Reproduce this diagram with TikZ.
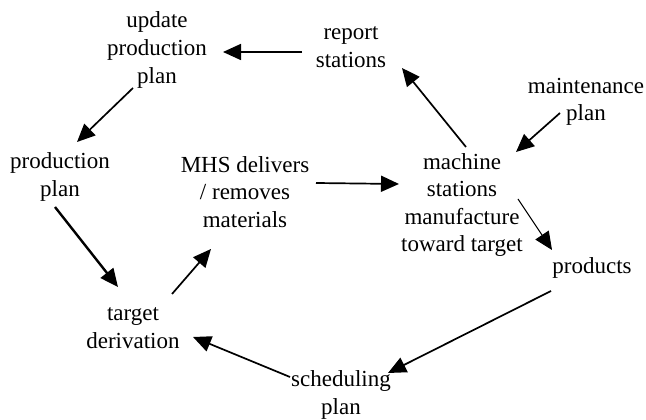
\documentclass[tikz,border=0pt]{standalone}
\usepackage{fontspec}
\setmainfont{Liberation Serif}
\usetikzlibrary{arrows.meta}
\begin{document}
\begin{tikzpicture}[x=1pt,y=1pt,
  lbl/.style={align=center,inner sep=0pt,font=\fontsize{23}{27.6}\selectfont},
  arr/.style={-{Triangle[length=18pt,width=16pt]},line width=1.7pt},
  thickarr/.style={arr,line width=2.4pt},
  thinarr/.style={arr,line width=1pt}]
\useasboundingbox (0,0) rectangle (646,420);
\node[lbl] (upd) at (157,370) {update\\production\\plan};
\node[lbl] (rep) at (351,373) {report\\stations};
\node[lbl] (maint) at (586,318) {maintenance\\plan};
\node[lbl] (pp) at (60,243) {production\\plan};
\node[lbl] (mhs) at (245,228) {MHS delivers\\/ removes\\materials};
\node[lbl] (mach) at (462,215) {machine\\stations\\manufacture\\toward target};
\node[lbl] (prod) at (592,152) {products};
\node[lbl] (tgt) at (133,92) {target\\derivation};
\node[lbl] (sch) at (341,25) {scheduling\\plan};

\draw[arr] ([shift={(-49,-5)}]rep.center) -- ([shift={(66,-2)}]upd.center);
\draw[arr] ([shift={(-24,-38)}]upd.center) -- ([shift={(17,35)}]pp.center);
\draw[thickarr] ([shift={(-5,-30)}]pp.center) -- ([shift={(-15,41)}]tgt.center);
\draw[arr] ([shift={(39,34)}]tgt.center) -- ([shift={(-34,-57)}]mhs.center);
\draw[arr] ([shift={(71,9)}]mhs.center) -- ([shift={(-63,21)}]mach.center);
\draw[arr] ([shift={(4,58)}]mach.center) -- ([shift={(51,-21)}]rep.center);
\draw[arr] ([shift={(-26,-11)}]maint.center) -- ([shift={(54,53)}]mach.center);
\draw[thinarr] ([shift={(56,6)}]mach.center) -- ([shift={(-40,18)}]prod.center);
\draw[arr] ([shift={(-41,-23)}]prod.center) -- ([shift={(47,22)}]sch.center);
\draw[arr] ([shift={(-51,18)}]sch.center) -- ([shift={(60,-9)}]tgt.center);
\end{tikzpicture}
\end{document}
